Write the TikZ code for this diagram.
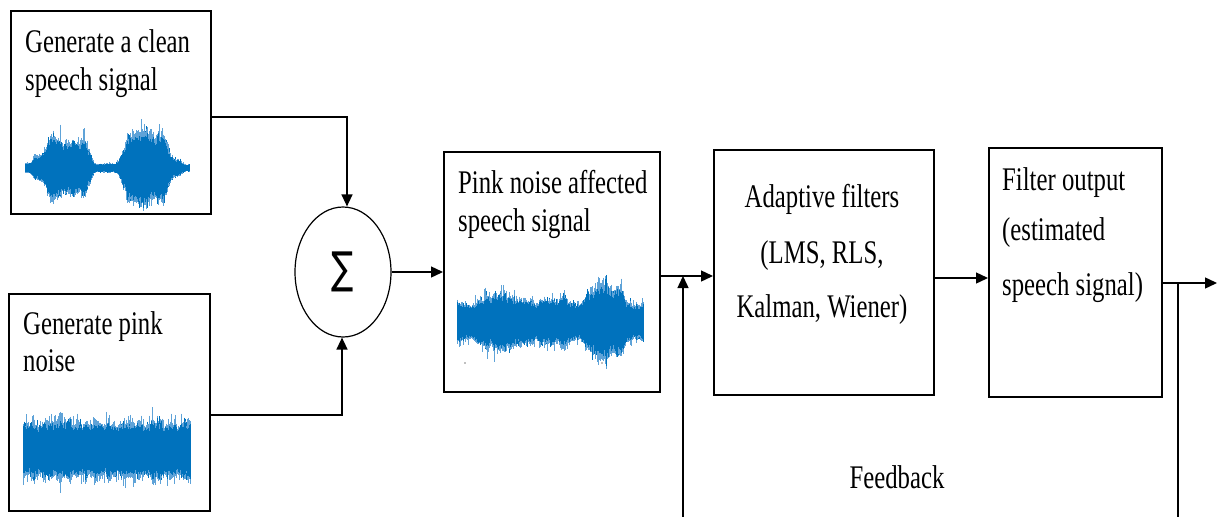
\documentclass[tikz,border=0pt]{standalone}
\usepackage{fontspec}
\setmainfont{Liberation Serif}
\newfontfamily\sigfont{DejaVu Sans}
\usepackage{graphicx}
\usetikzlibrary{shapes.geometric,arrows.meta}

\definecolor{wavedarkc}{RGB}{0,114,189}
\definecolor{wavelightc}{RGB}{95,163,216}

% narrow lettering used throughout the chart
\newcommand\sqz[1]{\scalebox{0.75}[1]{#1}}

% waveform made of thin vertical strokes:
% #1 left x, #2 right x, #3 centre y, #4 envelope (in \wt, 0..1),
% #5 / #6 spread of the light spikes above / below, #7 random seed
\def\wavesteps{299}
\newcommand\drawwave[7]{%
  \pgfmathsetseed{#7}%
  \gdef\wmod{0}%
  \foreach \k in {0,...,\wavesteps}{%
    \pgfmathsetmacro\wmn{0.8*\wmod+0.45*rand}\global\let\wmod\wmn
    \pgfmathsetmacro\wt{\k/\wavesteps}%
    \pgfmathsetmacro\wx{#1+(#2-#1)*\wt}%
    \pgfmathsetmacro\we{(#4)*(1+0.22*\wmod)}%
    \pgfmathsetmacro\wup{\we*(1+#5*rnd*rnd*rnd)}%
    \pgfmathsetmacro\wlo{\we*(1+#6*rnd*rnd*rnd)}%
    \draw[wavelight] (\wx,#3-\wup) -- (\wx,#3+\wlo);%
    \pgfmathsetmacro\wcu{\we*(0.8+0.2*rnd)+\we*0.3*rnd^8}%
    \pgfmathsetmacro\wcd{\we*(0.8+0.2*rnd)+\we*0.3*rnd^8}%
    \draw[wavedark] (\wx,#3-\wcu) -- (\wx,#3+\wcd);%
  }}

\begin{document}
\begin{tikzpicture}[x=1pt,y=-1pt,
  declare function={
    bump(\u)=exp(-min(min(abs(\u),3)^4,30));
    sharp(\u)=exp(-min(min(abs(\u),2)^8,30));},
  blk/.style={draw, line width=1.6pt, inner sep=0pt, anchor=north west},
  sumnode/.style={draw, ellipse, line width=1.2pt, inner sep=0pt,
    minimum width=96pt, minimum height=130pt},
  conn/.style={line width=1.4pt},
  arr/.style={conn, -{Triangle[length=12pt,width=11pt]}},
  lbl/.style={inner sep=0pt, anchor=base west, font=\fontsize{33}{40}\selectfont},
  lblc/.style={lbl, anchor=base},
  wavelight/.style={wavelightc, line width=0.8pt},
  wavedark/.style={wavedarkc, line width=0.8pt}]

\useasboundingbox (0,0) rectangle (1219,517);
\fill[white] (0,0) rectangle (1219,517);

% blocks
\node[blk, minimum width=200pt, minimum height=203pt] (b1) at (10,10) {};
\node[blk, minimum width=201pt, minimum height=217pt] (b2) at (8,293) {};
\node[blk, minimum width=216pt, minimum height=240pt] (b3) at (443,151) {};
\node[blk, minimum width=220pt, minimum height=245pt] (b4) at (713,149) {};
\node[blk, minimum width=173pt, minimum height=249pt] (b5) at (988,147) {};
\node[sumnode] (sum) at (343,272) {\sqz{\fontsize{44}{44}\sigfont ∑}};

% block texts
\node[lbl] (t1a) at (25,52) {\sqz{Generate a clean}};
\node[lbl] (t1b) at (25,90) {\sqz{speech signal}};
\node[lbl] (t2a) at (23,334) {\sqz{Generate pink}};
\node[lbl] (t2b) at (23,371) {\sqz{noise}};
\node[lbl] (t3a) at (458,193) {\sqz{Pink noise affected}};
\node[lbl] (t3b) at (458,231) {\sqz{speech signal}};
\node[lblc] (t4a) at (822,207) {\sqz{Adaptive filters}};
\node[lblc] (t4b) at (822,263) {\sqz{(LMS, RLS,}};
\node[lblc] (t4c) at (822,317) {\sqz{Kalman, Wiener)}};
\node[lbl] (t5a) at (1002,190) {\sqz{Filter output}};
\node[lbl] (t5b) at (1002,240) {\sqz{(estimated}};
\node[lbl] (t5c) at (1002,295) {\sqz{speech signal)}};
\node[lblc] (fb) at (897,488) {\sqz{Feedback}};

% waveforms
\drawwave{25}{189}{168}{4+22*sharp((\wt-0.265)/0.14)+7*bump((\wt-0.12)/0.07)+26*sharp((\wt-0.737)/0.15)+4*bump((\wt-0.93)/0.03)}{0.6}{0.35}{11}
\drawwave{23}{190}{450}{25}{0.8}{0.8}{23}
\drawwave{457}{643}{322}{18+7*bump((\wt-0.24)/0.11)+3*bump((\wt-0.5)/0.1)+18*bump((\wt-0.8)/0.1)}{0.6}{0.55}{37}
\fill[gray] (465,363) circle (0.9);
\fill[gray] (602,363) circle (0.9);

% connectors
\coordinate (j1) at (683,276);
\coordinate (j2) at (1178,283);
\coordinate (out) at (1217,283);
\coordinate (fbL) at (683,517);
\coordinate (fbR) at (1178,517);

\draw[arr] (b1.east |- 0,117) -| ([xshift=4pt]sum.north);
\draw[arr] (b2.east |- 0,415) -| ([xshift=-1pt]sum.south);
\draw[arr] (sum.east) -- (b3.west |- sum.east);
\draw[arr] (b3.east |- j1) -- (b4.west |- j1);
\draw[arr] (b4.east |- 0,278) -- (b5.west |- 0,278);
\draw[arr] (b5.east |- j2) -- (out);
\draw[conn] (j2) -- (fbR);
\draw[arr] (fbL) -- (j1);
\end{tikzpicture}
\end{document}
